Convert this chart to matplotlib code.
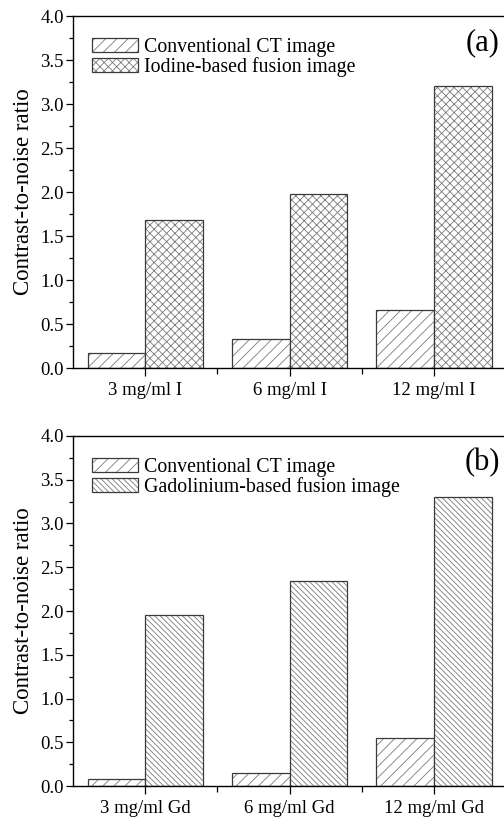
import matplotlib.pyplot as plt
import numpy as np
from matplotlib.ticker import MultipleLocator, FixedLocator
from matplotlib.legend_handler import HandlerTuple

plt.rcParams['font.family'] = ['Liberation Serif', 'DejaVu Serif']
plt.rcParams['hatch.linewidth'] = 0.6

# datos
cats_a = ['3 mg/ml I', '6 mg/ml I', '12 mg/ml I']
cats_b = ['3 mg/ml Gd', '6 mg/ml Gd', '12 mg/ml Gd']
ct_a = [0.17, 0.33, 0.66]
iodo_a = [1.68, 1.98, 3.20]
ct_b = [0.08, 0.15, 0.55]
gd_b = [1.96, 2.34, 3.30]
lab_ct = 'Conventional CT image'
lab_a = 'Iodine-based fusion image'
lab_b = 'Gadolinium-based fusion image'

fig = plt.figure(figsize=(5.04, 8.18), dpi=100)
ax1 = fig.add_axes([0.145, 0.5501, 0.859, 0.4303])
ax2 = fig.add_axes([0.145, 0.0391, 0.859, 0.4279])

borde = '#3a3a3a'   # contorno de barras
rayado = '#7a7a7a'  # color del rayado
w = 0.4


def barras(ax, x, y, hat):
    # rayado gris claro + contorno oscuro encima
    h = ax.bar(x, y, w, color='white', edgecolor=rayado, hatch=hat, lw=0)
    o = ax.bar(x, y, w, fill=False, edgecolor=borde, lw=0.9)
    return (h, o)


def panel(ax, cats, ct, fus, lab_f, hat_f, letra):
    x = np.arange(len(cats))
    b1 = barras(ax, x - w/2, ct, '///')
    b2 = barras(ax, x + w/2, fus, hat_f)
    ax.set_xlim(-0.5, 2.5)
    ax.set_ylim(0, 4.0)
    ax.set_xticks(x)
    ax.set_xticklabels(cats, fontsize=13.5)
    ax.xaxis.set_minor_locator(FixedLocator([0.5, 1.5]))
    ax.yaxis.set_major_locator(MultipleLocator(0.5))
    ax.yaxis.set_minor_locator(MultipleLocator(0.25))
    ax.set_yticklabels(['%.1f' % v for v in ax.get_yticks()], fontsize=13.5)
    ax.tick_params(which='major', direction='out', length=5, width=0.9, pad=1.5)
    ax.tick_params(axis='x', which='major', length=6, pad=4)
    ax.tick_params(which='minor', direction='out', length=3, width=0.9)
    ax.tick_params(axis='x', which='minor', length=4)
    ax.spines['right'].set_visible(False)
    for s in ['top', 'left', 'bottom']:
        ax.spines[s].set_linewidth(1.0)
    ax.set_ylabel('Contrast-to-noise ratio', fontsize=16.5, labelpad=5)
    ax.legend([b1, b2], [lab_ct, lab_f], handler_map={tuple: HandlerTuple(ndivide=1)},
              loc='upper left', frameon=False, fontsize=14.3, handlelength=2.3,
              handleheight=0.75, handletextpad=0.3, labelspacing=0.0,
              borderaxespad=0.3, bbox_to_anchor=(0.012, 0.978))
    ax.text(0.945, 0.923, letra, transform=ax.transAxes, fontsize=22, ha='center', va='center')


panel(ax1, cats_a, ct_a, iodo_a, lab_a, 'xxxx', '(a)')
panel(ax2, cats_b, ct_b, gd_b, lab_b, '\\\\\\\\\\\\', '(b)')

plt.savefig('out.png', dpi=100)
